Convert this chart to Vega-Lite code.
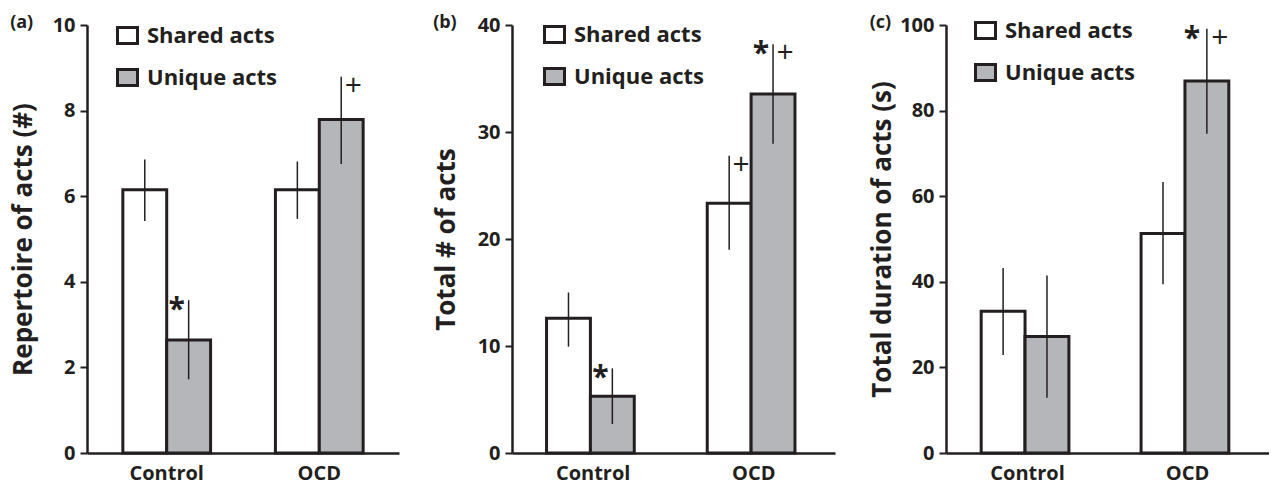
{
  "$schema": "https://vega.github.io/schema/vega-lite/v6.json",
  "background": "white",
  "padding": {"left": 10, "top": 14, "right": 0, "bottom": 0},
  "spacing": 34,
  "datasets": {
    "a": [
      {"group": "Control", "type": "Shared acts", "value": 6.15, "lo": 5.42, "hi": 6.86, "star": "", "plus": ""},
      {"group": "Control", "type": "Unique acts", "value": 2.64, "lo": 1.72, "hi": 3.57, "star": "*", "plus": ""},
      {"group": "OCD", "type": "Shared acts", "value": 6.15, "lo": 5.47, "hi": 6.81, "star": "", "plus": ""},
      {"group": "OCD", "type": "Unique acts", "value": 7.79, "lo": 6.75, "hi": 8.79, "star": "", "plus": "+"}
    ],
    "b": [
      {"group": "Control", "type": "Shared acts", "value": 12.6, "lo": 9.94, "hi": 15.0, "star": "", "plus": ""},
      {"group": "Control", "type": "Unique acts", "value": 5.3, "lo": 2.71, "hi": 7.91, "star": "*", "plus": ""},
      {"group": "OCD", "type": "Shared acts", "value": 23.33, "lo": 19.0, "hi": 27.79, "star": "", "plus": "+"},
      {"group": "OCD", "type": "Unique acts", "value": 33.55, "lo": 28.9, "hi": 38.2, "star": "*", "plus": "+"}
    ],
    "c": [
      {"group": "Control", "type": "Shared acts", "value": 33.1, "lo": 22.9, "hi": 43.2, "star": "", "plus": ""},
      {"group": "Control", "type": "Unique acts", "value": 27.2, "lo": 12.9, "hi": 41.5, "star": "", "plus": ""},
      {"group": "OCD", "type": "Shared acts", "value": 51.3, "lo": 39.4, "hi": 63.3, "star": "", "plus": ""},
      {"group": "OCD", "type": "Unique acts", "value": 86.9, "lo": 74.6, "hi": 99.1, "star": "*", "plus": "+"}
    ]
  },
  "resolve": {"scale": {"fill": "independent", "y": "independent"}, "legend": {"fill": "independent"}},
  "hconcat": [
    {
      "width": 312, "height": 428,
      "title": {"text": "(a)"},
      "data": {"name": "a"},
      "encoding": {
        "x": {"field": "group", "type": "nominal", "sort": ["Control", "OCD"], "scale": {"paddingInner": 0.425, "paddingOuter": 0.235}, "axis": {"title": null}},
        "xOffset": {"field": "type", "type": "nominal", "sort": ["Shared acts", "Unique acts"], "scale": {"paddingInner": 0, "paddingOuter": 0}}
      },
      "layer": [
        {"mark": {"type": "bar", "stroke": "#231f20", "strokeWidth": 3},
         "encoding": {
           "y": {"field": "value", "type": "quantitative", "scale": {"domain": [0, 10], "nice": false}, "axis": {"title": "Repertoire of acts (#)", "values": [0, 2, 4, 6, 8, 10], "titlePadding": 16}},
           "fill": {"field": "type", "type": "nominal", "scale": {"domain": ["Shared acts", "Unique acts"], "range": ["white", "#b5b6b9"]}, "legend": {"orient": "none", "legendX": 29, "legendY": -1}}
         }},
        {"mark": {"type": "rule", "strokeWidth": 1.5, "color": "#231f20"},
         "encoding": {"y": {"field": "lo", "type": "quantitative", "scale": {"domain": [0, 10], "nice": false}, "axis": {"title": "Repertoire of acts (#)", "values": [0, 2, 4, 6, 8, 10], "titlePadding": 16}}, "y2": {"field": "hi"}}},
        {"mark": {"type": "text", "dx": -12, "dy": 10, "fontSize": 30, "fontWeight": "bold", "color": "#231f20"},
         "encoding": {"y": {"field": "hi", "type": "quantitative", "scale": {"domain": [0, 10], "nice": false}, "axis": {"title": "Repertoire of acts (#)", "values": [0, 2, 4, 6, 8, 10], "titlePadding": 16}}, "text": {"field": "star"}}},
        {"mark": {"type": "text", "dx": 12, "dy": 9, "fontSize": 30, "color": "#231f20"},
         "encoding": {"y": {"field": "hi", "type": "quantitative", "scale": {"domain": [0, 10], "nice": false}, "axis": {"title": "Repertoire of acts (#)", "values": [0, 2, 4, 6, 8, 10], "titlePadding": 16}}, "text": {"field": "plus"}}}
      ]
    },
    {
      "width": 323, "height": 428,
      "title": {"text": "(b)"},
      "data": {"name": "b"},
      "encoding": {
        "x": {"field": "group", "type": "nominal", "sort": ["Control", "OCD"], "scale": {"paddingInner": 0.42, "paddingOuter": 0.215}, "axis": {"title": null}},
        "xOffset": {"field": "type", "type": "nominal", "sort": ["Shared acts", "Unique acts"], "scale": {"paddingInner": 0, "paddingOuter": 0}}
      },
      "layer": [
        {"mark": {"type": "bar", "stroke": "#231f20", "strokeWidth": 3},
         "encoding": {
           "y": {"field": "value", "type": "quantitative", "scale": {"domain": [0, 40], "nice": false}, "axis": {"title": "Total # of acts", "values": [0, 10, 20, 30, 40], "titlePadding": 18}},
           "fill": {"field": "type", "type": "nominal", "scale": {"domain": ["Shared acts", "Unique acts"], "range": ["white", "#b5b6b9"]}, "legend": {"orient": "none", "legendX": 31, "legendY": -2}}
         }},
        {"mark": {"type": "rule", "strokeWidth": 1.5, "color": "#231f20"},
         "encoding": {"y": {"field": "lo", "type": "quantitative", "scale": {"domain": [0, 40], "nice": false}, "axis": {"title": "Total # of acts", "values": [0, 10, 20, 30, 40], "titlePadding": 18}}, "y2": {"field": "hi"}}},
        {"mark": {"type": "text", "dx": -12, "dy": 10, "fontSize": 30, "fontWeight": "bold", "color": "#231f20"},
         "encoding": {"y": {"field": "hi", "type": "quantitative", "scale": {"domain": [0, 40], "nice": false}, "axis": {"title": "Total # of acts", "values": [0, 10, 20, 30, 40], "titlePadding": 18}}, "text": {"field": "star"}}},
        {"mark": {"type": "text", "dx": 12, "dy": 9, "fontSize": 30, "color": "#231f20"},
         "encoding": {"y": {"field": "hi", "type": "quantitative", "scale": {"domain": [0, 40], "nice": false}, "axis": {"title": "Total # of acts", "values": [0, 10, 20, 30, 40], "titlePadding": 18}}, "text": {"field": "plus"}}}
      ]
    },
    {
      "width": 323, "height": 428,
      "title": {"text": "(c)"},
      "data": {"name": "c"},
      "encoding": {
        "x": {"field": "group", "type": "nominal", "sort": ["Control", "OCD"], "scale": {"paddingInner": 0.42, "paddingOuter": 0.22}, "axis": {"title": null}},
        "xOffset": {"field": "type", "type": "nominal", "sort": ["Shared acts", "Unique acts"], "scale": {"paddingInner": 0, "paddingOuter": 0}}
      },
      "layer": [
        {"mark": {"type": "bar", "stroke": "#231f20", "strokeWidth": 3},
         "encoding": {
           "y": {"field": "value", "type": "quantitative", "scale": {"domain": [0, 100], "nice": false}, "axis": {"title": "Total duration of acts (s)", "values": [0, 20, 40, 60, 80, 100], "titlePadding": 4}},
           "fill": {"field": "type", "type": "nominal", "scale": {"domain": ["Shared acts", "Unique acts"], "range": ["white", "#b5b6b9"]}, "legend": {"orient": "none", "legendX": 28, "legendY": -6}}
         }},
        {"mark": {"type": "rule", "strokeWidth": 1.5, "color": "#231f20"},
         "encoding": {"y": {"field": "lo", "type": "quantitative", "scale": {"domain": [0, 100], "nice": false}, "axis": {"title": "Total duration of acts (s)", "values": [0, 20, 40, 60, 80, 100], "titlePadding": 4}}, "y2": {"field": "hi"}}},
        {"mark": {"type": "text", "dx": -15, "dy": 10, "fontSize": 30, "fontWeight": "bold", "color": "#231f20"},
         "encoding": {"y": {"field": "hi", "type": "quantitative", "scale": {"domain": [0, 100], "nice": false}, "axis": {"title": "Total duration of acts (s)", "values": [0, 20, 40, 60, 80, 100], "titlePadding": 4}}, "text": {"field": "star"}}},
        {"mark": {"type": "text", "dx": 13, "dy": 9, "fontSize": 30, "color": "#231f20"},
         "encoding": {"y": {"field": "hi", "type": "quantitative", "scale": {"domain": [0, 100], "nice": false}, "axis": {"title": "Total duration of acts (s)", "values": [0, 20, 40, 60, 80, 100], "titlePadding": 4}}, "text": {"field": "plus"}}}
      ]
    }
  ],
  "config": {
    "font": "Open Sans",
    "view": {"stroke": null},
    "axis": {"domainColor": "#231f20", "domainWidth": 2.5, "tickColor": "#231f20", "tickWidth": 2, "labelColor": "#231f20", "titleColor": "#231f20", "labelFont": "Open Sans", "titleFont": "Open Sans", "labelFontWeight": "bold", "labelFontSize": 20, "titleFontWeight": "bold", "titleFontSize": 26, "grid": false},
    "axisX": {"ticks": false, "labelAngle": 0, "labelPadding": 10},
    "axisY": {"tickSize": 7, "labelPadding": 5},
    "legend": {"labelFontSize": 22, "labelFontWeight": "bold", "labelColor": "#231f20", "labelFont": "Open Sans", "symbolType": "M-1,-0.8H1V0.8H-1Z", "symbolSize": 400, "symbolStrokeColor": "#231f20", "symbolStrokeWidth": 3, "labelOffset": 8, "rowPadding": 13, "padding": 0, "title": null},
    "title": {"fontSize": 18, "fontWeight": "bold", "anchor": "start", "frame": "bounds", "offset": -17, "color": "#231f20"}
  }
}
